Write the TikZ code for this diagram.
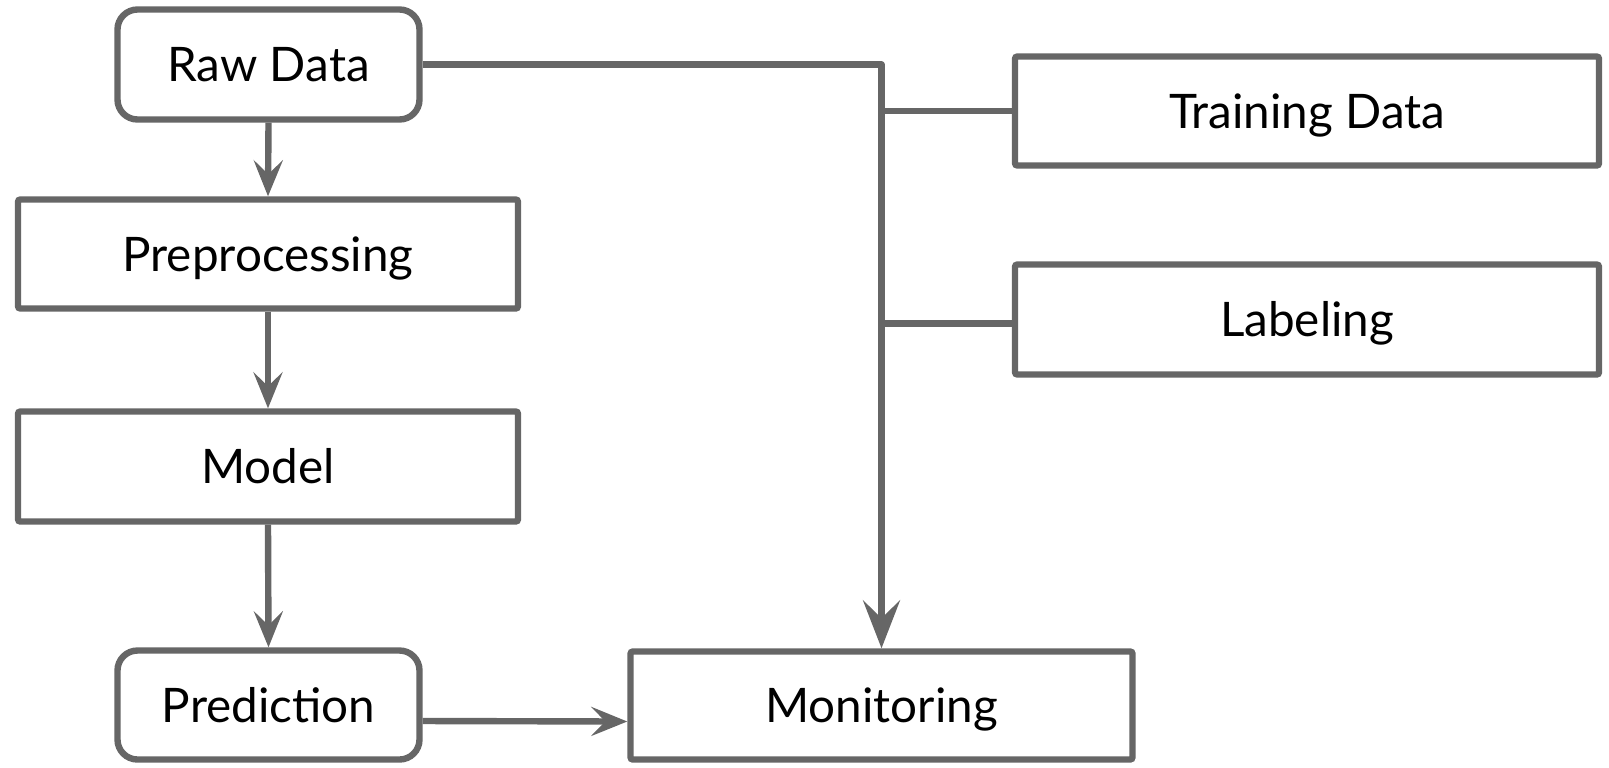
\documentclass[tikz,border=0pt]{standalone}
\usepackage{fontspec}
\setmainfont{Lato}
\usetikzlibrary{arrows.meta}
\definecolor{edgegray}{HTML}{666666}
\begin{document}
\begin{tikzpicture}[x=0.5pt,y=-0.5pt,
  box/.style={draw=edgegray, line width=3.2pt, fill=white, rounded corners=1.2pt,
    inner sep=0pt, font=\fontsize{23.8}{28}\selectfont, text=black,
    text height=17.1pt, text depth=0pt},
  rbox/.style={box, rounded corners=10pt},
  conn/.style={draw=edgegray, line width=3.2pt, line join=round},
  arr/.style={conn, -{Stealth[length=18pt, width=14.5pt, inset=7pt]}},
  bigarr/.style={conn, -{Stealth[length=24pt, width=18.5pt, inset=9pt]}}
]
\useasboundingbox (0,0) rectangle (1609,767);
\node[rbox, minimum width=151pt, minimum height=55pt] (raw) at (268.5,64.5) {Raw Data};
\node[box, minimum width=250pt, minimum height=54.5pt] (pre) at (268,254) {Preprocessing};
\node[box, minimum width=250pt, minimum height=55pt] (model) at (268,466.5) {Model};
\node[rbox, minimum width=151pt, minimum height=54.5pt] (pred) at (268.5,705) {Prediction};
\node[box, minimum width=251pt, minimum height=54pt] (mon) at (881.5,705.5) {Monitoring};
\node[box, minimum width=292pt, minimum height=54.5pt] (train) at (1307,111) {Training Data};
\node[box, minimum width=292pt, minimum height=55pt] (label) at (1307,319.5) {Labeling};
\coordinate (labin) at ([yshift=-2pt]label.west);

\draw[arr] (raw.south) -- (pre.north);
\draw[arr] (pre.south) -- (model.north);
\draw[arr] (model.south) -- (pred.north);
\draw[arr] ([yshift=-8pt]pred.east) -- ([yshift=-8pt]mon.west);
\draw[bigarr] (raw.east) -| (mon.north);
\draw[conn] (train.west) -- (mon.north |- train.west);
\draw[conn] (labin) -- (mon.north |- labin);
\end{tikzpicture}
\end{document}
